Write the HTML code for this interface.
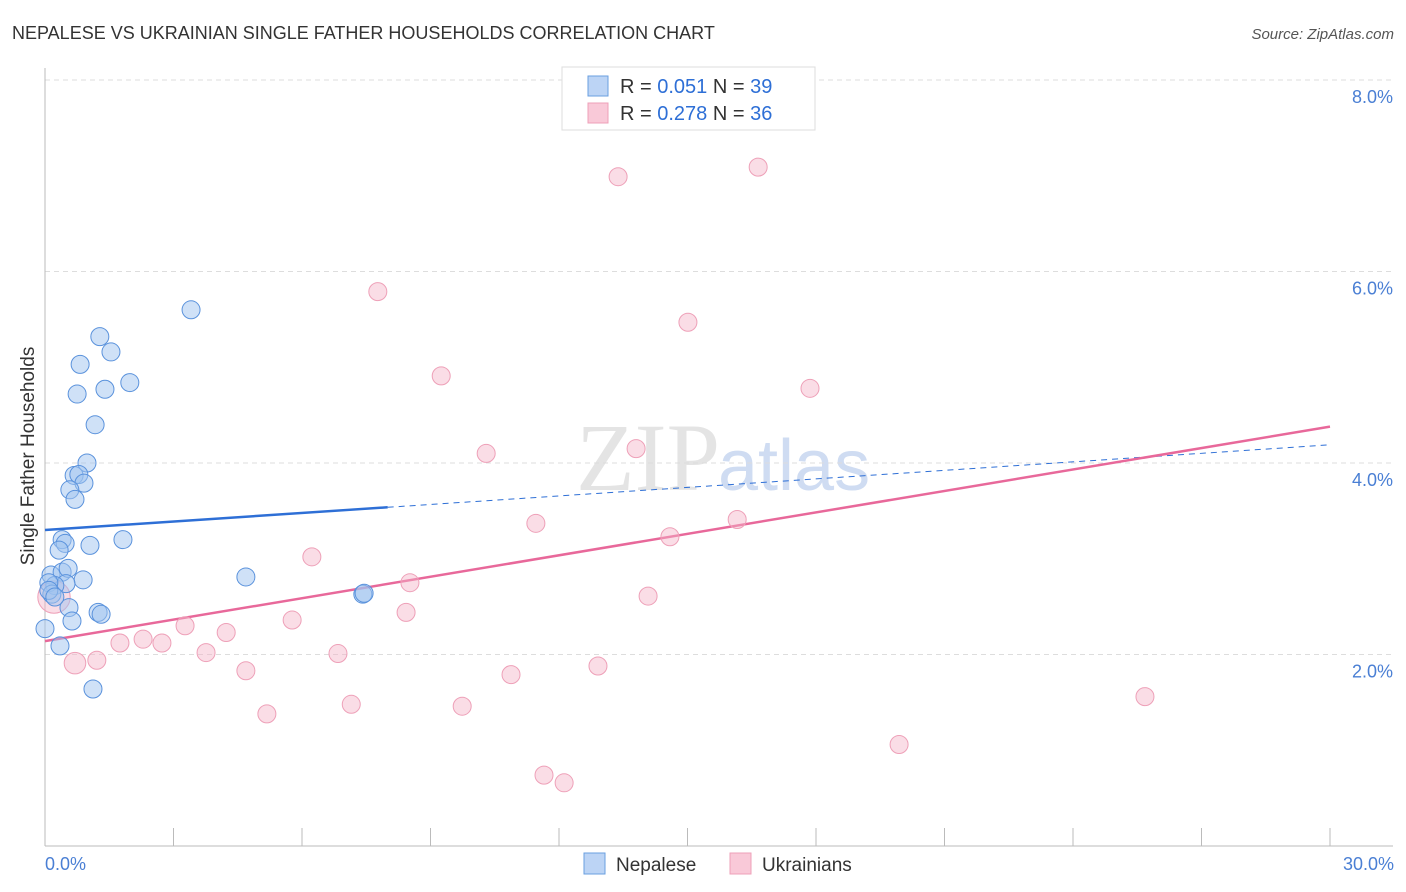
<!DOCTYPE html>
<html><head><meta charset="utf-8"><style>
body{margin:0;background:#fff;font-family:"Liberation Sans",sans-serif;}
svg{display:block}
</style></head><body>
<svg id="chart" width="1406" height="892">
<text x="12" y="39" font-size="18" fill="#333">NEPALESE VS UKRAINIAN SINGLE FATHER HOUSEHOLDS CORRELATION CHART</text>
<text x="1394" y="39" font-size="15" fill="#555" font-style="italic" text-anchor="end">Source: ZipAtlas.com</text>
<text x="720" y="490" font-size="96" fill="#e4e4e4" text-anchor="end" font-family="Liberation Serif">ZIP</text>
<text x="718" y="490" font-size="72" fill="#cfdcf2">atlas</text>
<g id="grid"></g><g id="axes"></g><g id="lines"></g><g id="pts"></g>
<text transform="translate(34,456) rotate(-90)" font-size="19" fill="#333" text-anchor="middle">Single Father Households</text>
<text x="45" y="870" font-size="18" fill="#4a7fd4">0.0%</text>
<text x="1394" y="870" font-size="18" fill="#4a7fd4" text-anchor="end">30.0%</text>
<g>
<rect x="562" y="67" width="253" height="63" fill="#fff" stroke="#ddd"/>
<rect x="588" y="76" width="20" height="20" fill="#bcd4f5" stroke="#6a9fe0"/>
<rect x="588" y="103" width="20" height="20" fill="#f9c9d8" stroke="#eea0b8"/>
<text x="620" y="93" font-size="20" fill="#333">R = <tspan fill="#2e6fd6">0.051</tspan>   N = <tspan fill="#2e6fd6">39</tspan></text>
<text x="620" y="120" font-size="20" fill="#333">R = <tspan fill="#2e6fd6">0.278</tspan>   N = <tspan fill="#2e6fd6">36</tspan></text>
</g>
<g>
<rect x="584" y="853" width="21" height="21" fill="#bcd4f5" stroke="#6a9fe0"/>
<text x="616" y="871" font-size="19" fill="#333">Nepalese</text>
<rect x="730" y="853" width="21" height="21" fill="#f9c9d8" stroke="#eea0b8"/>
<text x="762" y="871" font-size="19" fill="#333">Ukrainians</text>
</g>
</svg>
<script>
const yTicks=[2,4,6,8];
const xTickCount=10;
const nepX=[3.41,1.28,1.54,0.82,1.98,0.75,1.40,1.17,0.98,0.68,0.79,0.91,0.58,0.70,0.40,0.47,0.33,1.05,1.82,0.14,0.40,0.89,0.54,0.49,0.23,0.09,0.16,0.00,0.35,1.24,1.31,0.56,0.63,4.69,7.42,7.45,1.12,0.09,0.23];
const nepY=[5.60,5.32,5.16,5.03,4.84,4.72,4.77,4.40,4.00,3.87,3.88,3.79,3.72,3.62,3.20,3.16,3.09,3.14,3.20,2.83,2.86,2.78,2.90,2.74,2.72,2.75,2.63,2.27,2.09,2.44,2.42,2.49,2.35,2.81,2.63,2.64,1.64,2.67,2.60];
const ukrX=[0.21,0.70,1.21,1.75,2.29,2.73,3.27,3.76,4.23,4.69,5.18,5.77,6.23,6.84,7.15,7.77,8.43,8.52,9.25,9.74,10.30,10.88,11.46,11.65,12.12,12.91,13.38,13.80,14.08,14.59,15.01,16.16,16.65,17.86,19.94,25.68];
const ukrY=[2.60,1.91,1.94,2.12,2.16,2.12,2.30,2.02,2.23,1.83,1.38,2.36,3.02,2.01,1.48,5.79,2.44,2.75,4.91,1.46,4.10,1.79,3.37,0.74,0.66,1.88,6.99,4.15,2.61,3.23,5.47,3.41,7.09,4.78,1.06,1.56];
const ukrSize=[1.8,1.2,1,1,1,1,1,1,1,1,1,1,1,1,1,1,1,1,1,1,1,1,1,1,1,1,1,1,1,1,1,1,1,1,1,1];
const nepTrend=[3.30,4.19];
const nepSolidEnd=8.0;
const ukrTrend=[2.14,4.38];
const NS="http://www.w3.org/2000/svg";
const xs=v=>45+v/30*1285;
const ys=v=>846-v*95.75;
function mk(t,a,p){const e=document.createElementNS(NS,t);for(const k in a)e.setAttribute(k,a[k]);document.getElementById(p).appendChild(e);return e;}
yTicks.forEach(t=>{
 const l=mk('line',{x1:45,x2:1393,y1:ys(t),y2:ys(t),stroke:'#ddd','stroke-dasharray':'5,4'},'grid');
 
 
 const tx=mk('text',{x:1393,y:ys(t)+23,'font-size':18,fill:'#4a7fd4','text-anchor':'end'},'grid');
 tx.textContent=t.toFixed(1)+'%';
 
 
});
const ya=mk('line',{x1:45,x2:45,y1:68,y2:846,stroke:'#bbb'},'axes');


const xa=mk('line',{x1:45,x2:1393,y1:846,y2:846,stroke:'#bbb'},'axes');


for(let k=1;k<=xTickCount;k++){const x=xs(k*3);
 const t=mk('line',{x1:x,x2:x,y1:828,y2:846,stroke:'#bbb'},'axes');
 
 }
const nb=v=>nepTrend[0]+(nepTrend[1]-nepTrend[0])*v/30;
const l1=mk('line',{x1:xs(0),y1:ys(nb(0)),x2:xs(nepSolidEnd),y2:ys(nb(nepSolidEnd)),stroke:'#2e6fd6','stroke-width':2.5},'lines');


const l2=mk('line',{x1:xs(nepSolidEnd),y1:ys(nb(nepSolidEnd)),x2:xs(30),y2:ys(nb(30)),stroke:'#2e6fd6','stroke-width':1,'stroke-dasharray':'6,5'},'lines');


const l3=mk('line',{x1:xs(0),y1:ys(ukrTrend[0]),x2:xs(30),y2:ys(ukrTrend[1]),stroke:'#e8689a','stroke-width':2.5},'lines');


ukrX.forEach((x,i)=>{const c=mk('circle',{cx:xs(x),cy:ys(ukrY[i]),r:9*ukrSize[i],fill:'rgba(245,180,200,0.45)',stroke:'#eea0b8','stroke-width':1},'pts');
 
 });
nepX.forEach((x,i)=>{const c=mk('circle',{cx:xs(x),cy:ys(nepY[i]),r:9,fill:'rgba(160,195,240,0.5)',stroke:'#5a92dc','stroke-width':1},'pts');
 
 });
</script>
</body></html>
